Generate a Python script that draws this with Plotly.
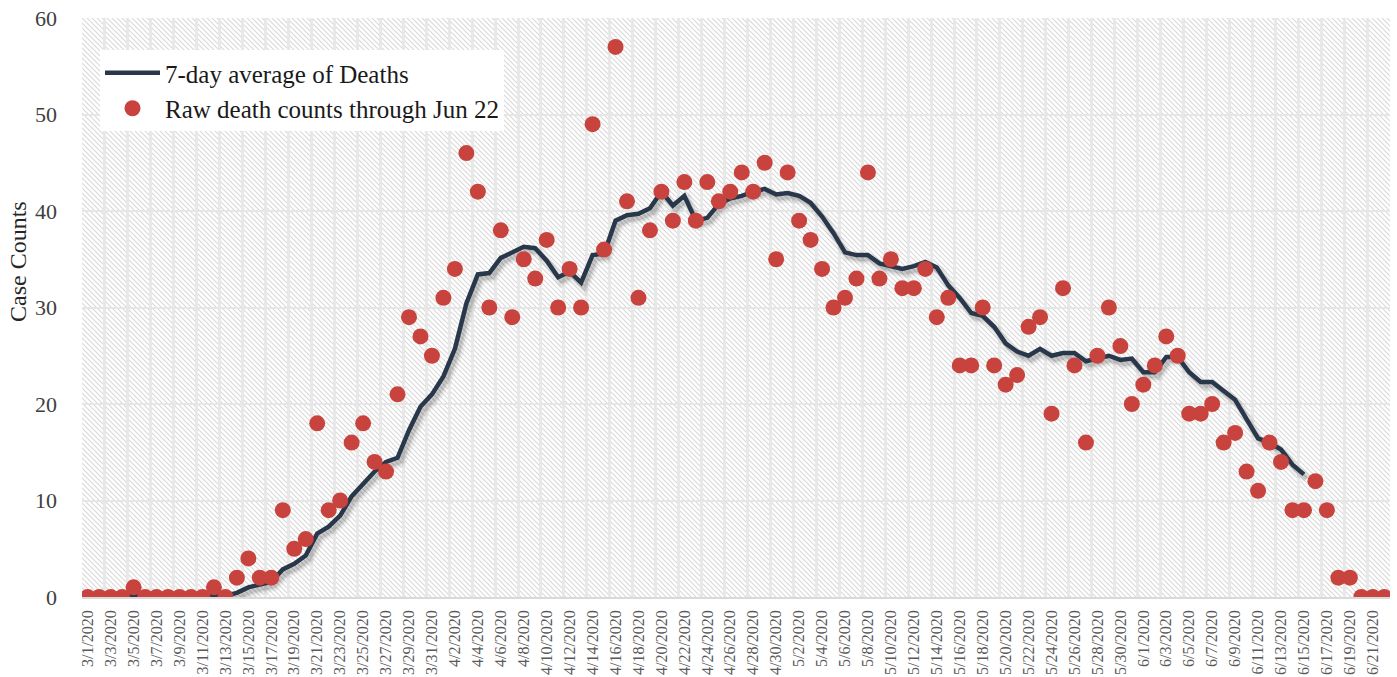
import base64
import pandas as pd
import plotly.graph_objects as go

# ---------------- data ----------------
dates = [f"{d.month}/{d.day}/{d.year}" for d in pd.date_range("2020-03-01", "2020-06-22")]

raw_deaths = [
    0, 0, 0, 0, 1, 0, 0, 0, 0, 0,
    0, 1, 0, 2, 4, 2, 2, 9, 5, 6,
    18, 9, 10, 16, 18, 14, 13, 21, 29, 27,
    25, 31, 34, 46, 42, 30, 38, 29, 35, 33,
    37, 30, 34, 30, 49, 36, 57, 41, 31, 38,
    42, 39, 43, 39, 43, 41, 42, 44, 42, 45,
    35, 44, 39, 37, 34, 30, 31, 33, 44, 33,
    35, 32, 32, 34, 29, 31, 24, 24, 30, 24,
    22, 23, 28, 29, 19, 32, 24, 16, 25, 30,
    26, 20, 22, 24, 27, 25, 19, 19, 20, 16,
    17, 13, 11, 16, 14, 9, 9, 12, 9, 2,
    2, 0, 0, 0,
]

avg_deaths = [
    0, 0, 0, 0, 0.14, 0.14, 0.14, 0.14, 0.14, 0.14,
    0.14, 0.14, 0.14, 0.43, 1.0, 1.29, 1.57, 2.86, 3.43, 4.29,
    6.57, 7.29, 8.43, 10.43, 11.71, 13.0, 14.0, 14.43, 17.29, 19.71,
    21.0, 22.86, 25.71, 30.43, 33.43, 33.57, 35.14, 35.71, 36.29, 36.14,
    34.86, 33.14, 33.71, 32.57, 35.43, 35.57, 39.0, 39.57, 39.71, 40.29,
    42.0, 40.57, 41.57, 39.0, 39.29, 40.71, 41.29, 41.57, 42.0, 42.29,
    41.71, 41.86, 41.57, 40.86, 39.43, 37.71, 35.71, 35.43, 35.43, 34.57,
    34.29, 34.0, 34.29, 34.71, 34.14, 32.29, 31.0, 29.43, 29.14, 28.0,
    26.29, 25.43, 25.0, 25.71, 25.0, 25.29, 25.29, 24.43, 24.71, 25.0,
    24.57, 24.71, 23.29, 23.29, 24.86, 24.86, 23.29, 22.29, 22.29, 21.43,
    20.43, 18.43, 16.43, 16.0, 15.29, 13.71, 12.71,
]

y_ticks = [0, 10, 20, 30, 40, 50, 60]

# ---------------- layout geometry ----------------
W, H = 1397, 677
ML, MR, MT, MB = 82, 7, 18, 80
PW, PH = W - ML - MR, H - MT - MB
n = len(dates)
idx = list(range(n))
XR = [-0.5, n - 0.5]
YR = [0, 60]

# shadow offsets (pixels) converted to axis units
px_per_cat = PW / n
px_per_unit = PH / (YR[1] - YR[0])
sx, sy = 3 / px_per_cat, 4 / px_per_unit

# hatched background as an svg pattern
svg = f'''<svg xmlns="http://www.w3.org/2000/svg" width="{PW}" height="{PH}" viewBox="0 0 {PW} {PH}" preserveAspectRatio="none">
<defs><pattern id="h" patternUnits="userSpaceOnUse" width="5" height="5">
<rect width="5" height="5" fill="#ffffff"/>
<path d="M-1,-1 L6,6 M-1,4 L1,6 M4,-1 L6,1" stroke="#d9d9d9" stroke-width="1.1"/>
</pattern></defs>
<rect width="{PW}" height="{PH}" fill="url(#h)"/></svg>'''
svg_uri = "data:image/svg+xml;base64," + base64.b64encode(svg.encode()).decode()

SERIF = "Liberation Serif, Times New Roman, serif"
LINE_COLOR = "#28374a"
DOT_COLOR = "#c9433e"

fig = go.Figure()

# invisible trace anchoring the base subplot
fig.add_trace(go.Scatter(x=[idx[0]], y=[0], mode="markers", marker=dict(opacity=0),
                         showlegend=False, hoverinfo="skip", xaxis="x", yaxis="y"))

# soft shadow under the average line
for w, a in [(11, 0.05), (7, 0.08), (4, 0.10)]:
    fig.add_trace(go.Scatter(x=idx[:len(avg_deaths)], y=avg_deaths, mode="lines",
                             line=dict(color=f"rgba(0,0,0,{a})", width=w),
                             showlegend=False, hoverinfo="skip", xaxis="x2", yaxis="y2"))

fig.add_trace(go.Scatter(x=idx[:len(avg_deaths)], y=avg_deaths, mode="lines",
                         name="7-day average of Deaths",
                         line=dict(color=LINE_COLOR, width=4.5),
                         xaxis="x3", yaxis="y3"))
fig.add_trace(go.Scatter(x=idx, y=raw_deaths, mode="markers",
                         name="Raw death counts through Jun 22",
                         marker=dict(color=DOT_COLOR, size=16, line=dict(width=0)),
                         xaxis="x3", yaxis="y3"))

hidden = dict(visible=False, showgrid=False, zeroline=False)

fig.update_layout(
    width=W, height=H,
    margin=dict(l=ML, r=MR, t=MT, b=MB, autoexpand=False),
    paper_bgcolor="white",
    plot_bgcolor="white",
    font=dict(family=SERIF, color="#262626"),
    xaxis=dict(
        range=XR, tickmode="array", tickvals=idx[::2], ticktext=dates[::2],
        tickangle=-90, tickfont=dict(size=16, color="#595959", family=SERIF),
        ticks="", ticklabelstandoff=5, automargin=False,
        showgrid=False, zeroline=False,
        showline=True, linecolor="#d9d9d9", linewidth=1.5,
        minor=dict(tickmode="array", tickvals=[i - 0.5 for i in range(0, n + 1, 2)],
                   showgrid=True, gridcolor="#e8e8e8", gridwidth=3, ticks=""),
    ),
    yaxis=dict(
        range=YR, tickmode="array", tickvals=y_ticks,
        tickfont=dict(size=22, color="#404040", family=SERIF),
        ticks="", ticklabelstandoff=24, automargin=False,
        showgrid=True, gridcolor="#e6e6e6", gridwidth=2, zeroline=False,
    ),
    xaxis2=dict(overlaying="x", range=[XR[0] - sx, XR[1] - sx], **hidden),
    yaxis2=dict(overlaying="y", range=[YR[0] + sy, YR[1] + sy], **hidden),
    xaxis3=dict(overlaying="x", range=XR, **hidden),
    yaxis3=dict(overlaying="y", range=YR, **hidden),
    legend=dict(
        x=(100 - ML) / PW, y=(MT + PH - 50) / PH, xanchor="left", yanchor="top",
        bgcolor="white", borderwidth=0,
        font=dict(size=25, color="#1a1a1a", family=SERIF),
        itemwidth=55, tracegroupgap=0,
    ),
    images=[dict(source=svg_uri, xref="paper", yref="paper", x=0, y=1,
                 sizex=1, sizey=1, xanchor="left", yanchor="top",
                 sizing="stretch", layer="below")],
    annotations=[dict(text="Case Counts", xref="paper", yref="paper",
                      x=(18 - ML) / PW, y=(MT + PH - 262) / PH,
                      xanchor="center", yanchor="middle", textangle=-90,
                      showarrow=False, font=dict(size=24, color="#262626", family=SERIF))],
    showlegend=True,
)

fig.write_html("out.html", config={"displayModeBar": False},
               post_script="document.body.style.margin='0px';")
